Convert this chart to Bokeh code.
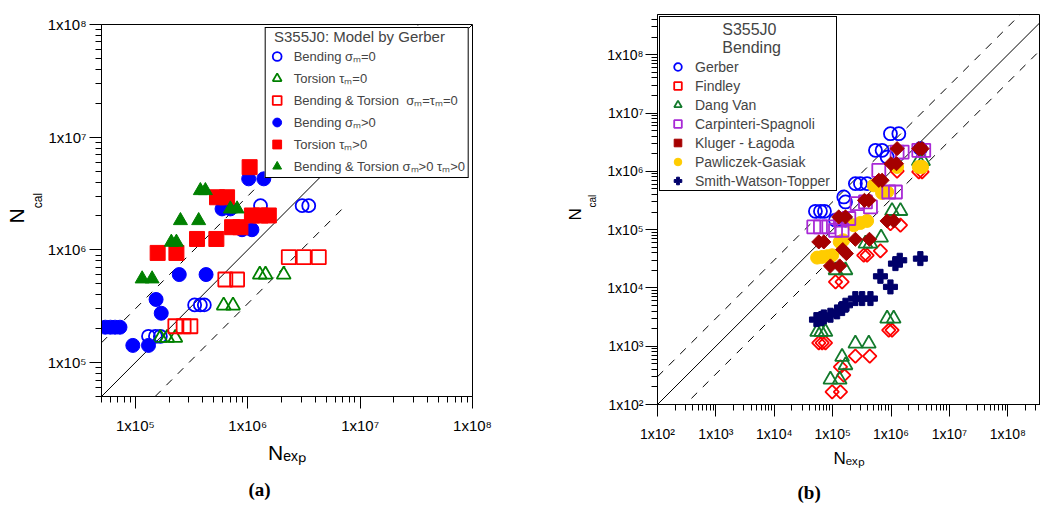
import numpy as np
from bokeh.plotting import figure
from bokeh.models import FixedTicker, Legend, LegendItem, Title, Range1d
from bokeh.layouts import row, column
from bokeh.embed import file_html
from bokeh.resources import INLINE

# ---------------- Panel (a): S355J0, model by Gerber ----------------
bend0_x = [1.31e5, 1.51e5, 1.67e5, 3.37e5, 3.79e5, 4.11e5, 1.30e6, 3.05e6, 3.49e6]
bend0_y = [1.71e5, 1.71e5, 1.71e5, 3.25e5, 3.25e5, 3.25e5, 2.47e6, 2.47e6, 2.47e6]
tors0_x = [1.67e5, 1.92e5, 2.27e5, 6.11e5, 7.40e5, 1.28e6, 1.44e6, 2.09e6]
tors0_y = [1.66e5, 1.66e5, 1.66e5, 3.21e5, 3.21e5, 6.04e5, 6.04e5, 6.04e5]
bt0_x = [2.27e5, 2.69e5, 3.09e5, 6.32e5, 8.04e5, 2.32e6, 3.15e6, 4.29e6]
bt0_y = [2.10e5, 2.10e5, 2.10e5, 5.46e5, 5.46e5, 8.61e5, 8.61e5, 8.61e5]
bendm_x = [5.4e4, 6.0e4, 6.6e4, 7.3e4, 9.5e4, 1.31e5, 1.53e5, 1.70e5, 2.46e5, 4.26e5,
           5.91e5, 7.0e5, 8.9e5, 1.09e6, 1.02e6, 1.39e6]
bendm_y = [2.06e5, 2.06e5, 2.06e5, 2.06e5, 1.42e5, 1.42e5, 3.63e5, 2.74e5, 6.04e5, 6.04e5,
           2.31e6, 2.31e6, 1.51e6, 1.51e6, 4.27e6, 4.27e6]
torsm_x = [1.58e5, 2.32e5, 3.54e5, 5.26e5, 5.33e5, 6.55e5, 7.26e5, 8.61e5, 1.09e6, 1.30e6,
           1.54e6, 1.04e6, 2.24e6, 3.15e6]
torsm_y = [9.4e5, 9.4e5, 1.25e6, 1.25e6, 2.93e6, 2.93e6, 1.59e6, 1.59e6, 2.02e6, 2.02e6,
           2.02e6, 5.42e6, 5.42e6, 5.42e6]
btm_x = [1.15e5, 1.41e5, 2.09e5, 2.32e5, 2.52e5, 3.66e5, 3.79e5, 4.20e5, 7.01e5, 8.04e5]
btm_y = [5.53e5, 5.53e5, 1.17e6, 1.17e6, 1.82e6, 1.82e6, 3.36e6, 3.36e6, 2.31e6, 2.31e6]

a_labels = ["Bending σₘ=0", "Torsion τₘ=0", "Bending & Torsion  σₘ=τₘ=0",
            "Bending σₘ>0", "Torsion τₘ>0", "Bending & Torsion σₘ>0 τₘ>0"]

# ---------------- Panel (b): S355J0, bending, all criteria ----------------
gerber_x = [5.07e4, 6.18e4, 7.24e4, 1.12e5, 1.66e5, 1.55e5, 1.66e5, 2.45e5, 2.99e5, 3.89e5,
            5.41e5, 7.03e5, 8.57e5, 9.77e5, 1.36e6, 3.18e6]
gerber_y = [2.06e5, 2.06e5, 2.06e5, 1.45e5, 1.45e5, 3.63e5, 2.98e5, 6.15e5, 6.15e5, 6.15e5,
            2.29e6, 2.29e6, 1.76e6, 4.42e6, 4.42e6, 2.45e6]
findley_x = [5.79e4, 6.61e4, 7.53e4, 9.80e4, 1.36e5, 1.36e5, 1.55e5, 2.45e5, 4.32e5, 9.14e5,
             1.04e6, 1.12e5, 1.45e5, 3.41e5, 3.89e5, 6.58e5, 9.77e5, 1.45e6, 1.27e6, 2.99e6, 3.40e6]
findley_y = [1.14e3, 1.14e3, 1.14e3, 165, 165, 443, 318, 674, 674, 1.88e3,
             1.88e3, 1.27e4, 1.27e4, 3.63e4, 3.63e4, 4.31e4, 1.27e5, 1.19e5, 1.01e6, 9.74e5, 9.74e5]
dangvan_x = [5.42e4, 6.35e4, 7.53e4, 9.16e4, 1.32e5, 1.45e5, 1.66e5, 2.45e5, 4.16e5, 8.57e5,
             1.11e6, 1.12e5, 1.66e5, 3.65e5, 4.44e5, 6.76e5, 1.04e6, 1.45e6, 2.99e6, 3.54e6]
dangvan_y = [1.76e3, 1.76e3, 1.76e3, 268, 268, 656, 472, 1.11e3, 1.11e3, 2.98e3,
             2.98e3, 2.01e4, 2.01e4, 5.75e4, 5.75e4, 7.29e4, 2.09e5, 2.09e5, 1.50e6, 1.50e6]
carp_x = [4.75e4, 6.18e4, 8.59e4, 1.12e5, 1.45e5, 1.36e5, 1.89e5, 2.62e5, 3.65e5, 4.44e5,
          6.17e5, 9.14e5, 1.19e6, 1.27e6, 1.55e6, 2.99e6, 3.63e6]
carp_y = [1.11e5, 1.11e5, 1.11e5, 9.75e4, 9.75e4, 1.45e5, 1.55e5, 2.79e5, 2.98e5, 2.45e5,
          1.04e6, 4.42e5, 4.42e5, 2.14e6, 2.14e6, 2.29e6, 2.29e6]
kluger_x = [5.79e4, 7.05e4, 9.16e4, 1.32e5, 1.49e5, 1.72e5, 2.45e5, 4.27e5, 8.57e5, 1.11e6,
            1.27e5, 1.66e5, 3.51e5, 4.16e5, 6.17e5, 7.03e5, 1.00e6, 1.24e6, 1.27e6, 2.99e6, 3.40e6]
kluger_y = [6.15e4, 6.15e4, 2.38e4, 2.38e4, 4.54e4, 3.88e4, 6.82e4, 6.82e4, 1.41e5, 1.41e5,
            1.65e5, 1.65e5, 3.18e5, 3.18e5, 7.01e5, 7.01e5, 1.35e6, 1.35e6, 2.45e6, 2.45e6, 2.45e6]
pawl_x = [5.42e4, 6.61e4, 8.04e4, 9.80e4, 1.32e5, 1.51e5, 2.30e5, 2.99e5, 3.89e5, 5.06e5,
          7.03e5, 8.57e5, 1.27e6, 2.99e6, 3.40e6]
pawl_y = [3.31e4, 3.40e4, 3.49e4, 3.63e4, 6.15e4, 6.56e4, 1.19e5, 1.30e5, 1.41e5, 5.75e5,
          4.25e5, 4.42e5, 1.19e6, 1.19e6, 1.19e6]
swt_x = [5.28e4, 6.43e4, 7.05e4, 9.16e4, 1.19e5, 1.45e5, 1.66e5, 2.45e5, 3.20e5, 4.44e5,
         6.58e5, 9.77e5, 1.19e6, 1.41e6, 3.18e6]
swt_y = [2.86e3, 2.98e3, 3.18e3, 3.40e3, 3.88e3, 4.42e3, 5.05e3, 6.56e3, 6.56e3, 6.56e3,
         1.58e4, 1.04e4, 2.61e4, 2.98e4, 3.18e4]

b_labels = ["Gerber", "Findley", "Dang Van", "Carpinteri-Spagnoli", "Kluger - Łagoda",
            "Pawliczek-Gasiak", "Smith-Watson-Topper"]

# scatter band (factor 3) and perfect agreement line
band = 3.0
diag_a = np.array([5e4, 1e8])
lower_a = np.array([1.5e5, 7e6])
diag_b = np.array([1e2, 1e9])

FONT = "Liberation Sans"
SUP = {2: "²", 3: "³", 4: "⁴", 5: "⁵", 6: "⁶", 7: "⁷", 8: "⁸"}
NB = "\u00a0"


def make_fig(xr, yr, bl, br, bt, bb, decades, xdec, ydec, fs):
    p = figure(width=520, height=512, x_axis_type="log", y_axis_type="log",
               x_range=Range1d(*xr), y_range=Range1d(*yr),
               output_backend="svg", toolbar_location=None,
               min_border_left=bl, min_border_right=br, min_border_top=bt, min_border_bottom=bb)
    minors = [k * 10.0 ** e for e in decades for k in range(2, 10)]
    p.xaxis.ticker = FixedTicker(ticks=[10.0 ** e for e in xdec], minor_ticks=minors)
    p.yaxis.ticker = FixedTicker(ticks=[10.0 ** e for e in ydec], minor_ticks=minors)
    p.xaxis.major_label_overrides = {10.0 ** e: "1x10" + SUP[e] for e in xdec}
    p.yaxis.major_label_overrides = {10.0 ** e: "1x10" + SUP[e] for e in ydec}
    p.grid.visible = False
    p.outline_line_color = "black"
    p.outline_line_alpha = 1.0
    for ax in (p.xaxis[0], p.yaxis[0]):
        ax.axis_line_color = "black"
        ax.major_tick_line_color = "black"
        ax.minor_tick_line_color = "black"
        ax.major_tick_in = 0
        ax.minor_tick_in = 0
        ax.major_tick_out = 12
        ax.minor_tick_out = 6
        ax.major_label_text_font = FONT
        ax.major_label_text_font_size = fs
        ax.major_label_text_color = "black"
        ax.axis_label_text_font = FONT
        ax.axis_label_text_font_style = "normal"
        ax.axis_label_text_color = "black"
    return p


def side_title(p, text, place, size, offset, standoff, font=FONT, style="normal"):
    p.add_layout(Title(text=text, align="left", offset=offset, standoff=standoff,
                       text_font=font, text_font_size=f"{size}px", text_font_style=style,
                       text_color="black", vertical_align="bottom"), place)


# ---------------- figure (a) ----------------
pa = make_fig((5e4, 1e8), (5e4, 1e8), 101, 48, 24, 116, range(4, 8), [5, 6, 7, 8], [5, 6, 7, 8], "15px")
pa.xaxis.major_label_standoff = 8
pa.yaxis.major_label_standoff = 3
pa.xaxis.axis_label = "Nₑₓₚ"
pa.xaxis.axis_label_text_font_size = "21px"
pa.xaxis.axis_label_standoff = 4
pa.yaxis.axis_label = NB * 6 + "cal"
pa.yaxis.axis_label_text_font_size = "12px"
pa.yaxis.axis_label_standoff = 0
side_title(pa, "N", "left", 21, 173, 0)
side_title(pa, "(a)", "below", 19, 147, 20, font="Liberation Serif", style="bold")

pa.line(diag_a, diag_a, line_color="black", line_width=1)
pa.line(diag_a, diag_a * band, line_color="black", line_width=1, line_dash="8 8")
pa.line(lower_a, lower_a / band, line_color="black", line_width=1, line_dash="8 8")

ra = []
ra.append(pa.scatter(bend0_x, bend0_y, marker="circle", size=13, fill_color=None, line_color="#0000FF", line_width=1.8))
ra.append(pa.scatter(tors0_x, tors0_y, marker="triangle", size=14, fill_color=None, line_color="#008000", line_width=1.8))
ra.append(pa.scatter(bt0_x, bt0_y, marker="square", size=14, fill_color=None, line_color="#FF0000", line_width=1.8))
ra.append(pa.scatter(bendm_x, bendm_y, marker="circle", size=14, fill_color="#0000FF", line_color="#0000FF"))
ra.append(pa.scatter(torsm_x, torsm_y, marker="square", size=15, fill_color="#FF0000", line_color="#FF0000"))
ra.append(pa.scatter(btm_x, btm_y, marker="triangle", size=14, fill_color="#008000", line_color="#008000"))

leg_a = Legend(items=[LegendItem(label=t, renderers=[r]) for t, r in zip(a_labels, ra)],
               location="top_right", margin=3, padding=dict(left=0, right=3, top=0, bottom=0),
               spacing=0,
               glyph_width=22, glyph_height=22, label_height=10, label_standoff=6,
               label_text_font=FONT, label_text_font_size="13px",
               title=NB * 2 + "S355J0: Model by Gerber", title_text_font=FONT, title_text_font_size="15px",
               title_text_font_style="normal", title_standoff=0,
               border_line_color="black", border_line_width=1, border_line_alpha=1.0,
               background_fill_color="white", background_fill_alpha=1.0)
pa.add_layout(leg_a)

# ---------------- figure (b) ----------------
pb = make_fig((1e2, 10 ** 8.56), (1e2, 10 ** 8.69), 137, 0, 14, 108, range(2, 9),
              [2, 3, 4, 5, 6, 7, 8], [2, 3, 4, 5, 6, 7, 8], "14px")
pb.xaxis.major_label_standoff = 9
pb.yaxis.major_label_standoff = 2
pb.xaxis.axis_label = "Nₑₓₚ"
pb.xaxis.axis_label_text_font_size = "17px"
pb.xaxis.axis_label_standoff = 4
pb.yaxis.axis_label = NB * 6 + "cal"
pb.yaxis.axis_label_text_font_size = "10px"
pb.yaxis.axis_label_standoff = 6
side_title(pb, "N", "left", 17, 184, 0)
side_title(pb, "(b)", "below", 19, 140, 18, font="Liberation Serif", style="bold")

pb.line(diag_b, diag_b, line_color="black", line_width=1)
pb.line(diag_b, diag_b * band, line_color="black", line_width=1, line_dash="8 8")
pb.line(diag_b, diag_b / band, line_color="black", line_width=1, line_dash="8 8")

DIAM = np.pi / 4
r_g = pb.scatter(gerber_x, gerber_y, marker="circle", size=13, fill_color=None, line_color="#0000FF", line_width=1.8)
r_f = pb.scatter(findley_x, findley_y, marker="square", angle=DIAM, size=9.5, fill_color=None, line_color="#FF0000", line_width=1.8)
r_d = pb.scatter(dangvan_x, dangvan_y, marker="triangle", size=14, fill_color=None, line_color="#137A2C", line_width=1.8)
r_p = pb.scatter(pawl_x, pawl_y, marker="circle", size=13, fill_color="#FFCC00", line_color="#FFCC00")
r_c = pb.scatter(carp_x, carp_y, marker="square", size=13, fill_color=None, line_color="#A829D6", line_width=1.8)
r_k = pb.scatter(kluger_x, kluger_y, marker="square", angle=DIAM, size=10, fill_color="#A50000", line_color="#A50000")
r_s = pb.scatter(swt_x, swt_y, marker="plus", size=14, fill_color="#00006A", line_color="#00006A")

rb = [r_g, r_f, r_d, r_c, r_k, r_p, r_s]
leg_b = Legend(items=[LegendItem(label=t, renderers=[r]) for t, r in zip(b_labels, rb)],
               location="top_left", margin=2, padding=dict(left=0, right=6, top=4, bottom=0),
               spacing=0,
               glyph_width=35, glyph_height=19, label_height=10, label_standoff=0,
               label_text_font=FONT, label_text_font_size="14px",
               title=NB * 14 + "S355J0\n" + NB * 14 + "Bending", title_text_font=FONT,
               title_text_font_size="16px",
               title_text_font_style="normal", title_standoff=0,
               border_line_color="black", border_line_width=1, border_line_alpha=1.0,
               background_fill_color="white", background_fill_alpha=1.0)
pb.add_layout(leg_b)

layout = row(column(pa), column(pb))
open("out.html", "w").write(file_html(layout, INLINE))
